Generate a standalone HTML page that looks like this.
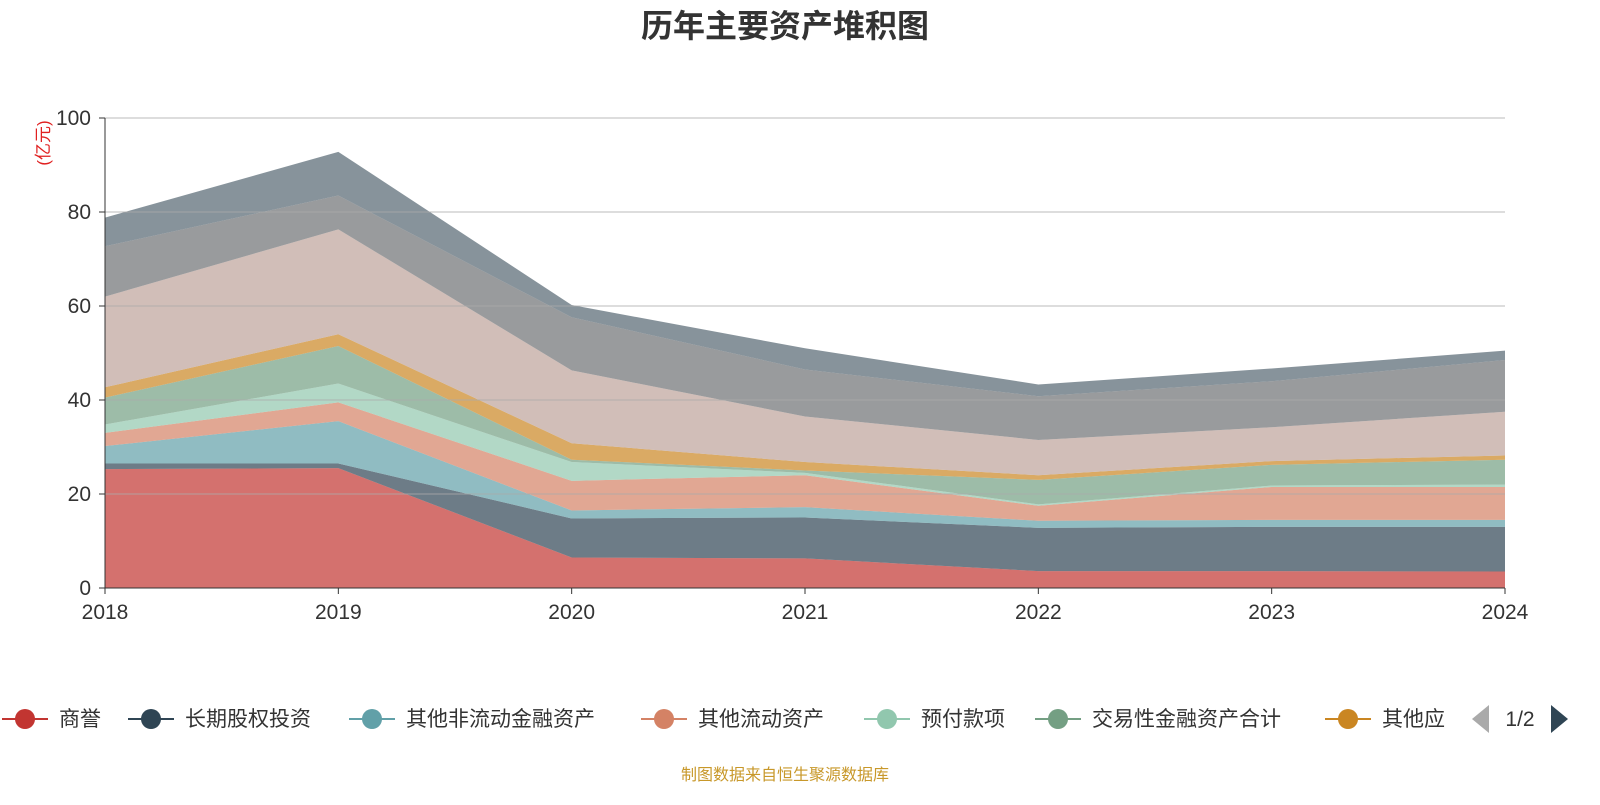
<!DOCTYPE html>
<html><head><meta charset="utf-8">
<style>
body{margin:0;background:#fff;width:1600px;height:800px;overflow:hidden;font-family:"Liberation Sans","Noto Sans CJK SC",sans-serif;}
svg text{font-family:"Liberation Sans","Noto Sans CJK SC",sans-serif;}
</style></head><body>
<svg id="chart" width="1600" height="800">
<text x="785" y="37" text-anchor="middle" font-size="32" font-weight="bold" fill="#333">历年主要资产堆积图</text>
<text transform="translate(49,143) rotate(-90)" text-anchor="middle" font-size="17" fill="#e02020">(亿元)</text>
<g id="areas"></g><g id="grid"></g><g id="axes"></g><g id="legend"></g>
<text x="785" y="780" text-anchor="middle" font-size="16" fill="#c8982a">制图数据来自恒生聚源数据库</text>
</svg>
<script>
const years=["2018","2019","2020","2021","2022","2023","2024"];
const yTicks=[0,20,40,60,80,100];
const names=["商誉","长期股权投资","其他非流动金融资产","其他流动资产","预付款项","交易性金融资产合计","其他应收款","系列8","系列9","系列10"];
const s1=[25.3,25.5,6.5,6.3,3.6,3.6,3.5];
const s2=[1.2,1.0,8.3,8.7,9.2,9.4,9.5];
const s3=[3.7,9.0,1.7,2.2,1.5,1.5,1.5];
const s4=[2.8,4.0,6.3,6.8,3.2,7.0,7.0];
const s5=[1.8,4.0,4.0,0.5,0.3,0.3,0.5];
const s6=[5.7,8.0,0.5,0.5,5.2,4.4,5.3];
const s7=[2.2,2.5,3.5,1.8,1.0,0.8,0.9];
const s8=[19.3,22.3,15.5,9.7,7.5,7.2,9.3];
const s9=[10.7,7.2,11.3,10.0,9.3,9.8,11.0];
const s10=[6.1,9.3,2.6,4.5,2.5,2.7,2.0];
const series=[s1,s2,s3,s4,s5,s6,s7,s8,s9,s10];
const colors=["#c23531","#2f4554","#61a0a8","#d48265","#91c7ae","#749f83","#ca8622","#bda29a","#6e7074","#546570"];
const NS="http://www.w3.org/2000/svg";
const X0=105,X1=1505,Y0=588,Y1=118;
const xs=i=>X0+i*(X1-X0)/(years.length-1);
const ys=v=>Y0-v*(Y0-Y1)/100;
function mk(t,a,p){const e=document.createElementNS(NS,t);for(const k in a)e.setAttribute(k,a[k]);p.appendChild(e);return e;}
const areas=document.getElementById('areas');
let base=years.map(()=>0);
series.forEach((s,k)=>{
  const top=base.map((b,i)=>b+s[i]);
  let d="M"+top.map((v,i)=>xs(i)+","+ys(v)).join("L");
  for(let i=years.length-1;i>=0;i--)d+="L"+xs(i)+","+ys(base[i]);
  const p=mk('path',{d:d+"Z",fill:colors[k],'fill-opacity':0.7},areas);
  
  
  base=top;
});
const grid=document.getElementById('grid'),axes=document.getElementById('axes');
yTicks.forEach(t=>{
  if(t>0){const l=mk('line',{x1:X0,x2:X1,y1:ys(t),y2:ys(t),stroke:'#aaa','stroke-opacity':0.8,'stroke-width':1},grid);
  
  }
  const tk=mk('line',{x1:X0-6,x2:X0,y1:ys(t),y2:ys(t),stroke:'#333'},axes);
  
  
  const tx=mk('text',{x:X0-14,y:ys(t)+7,'text-anchor':'end','font-size':21,fill:'#333'},axes);
  tx.textContent=t;
  
  
});
const ya=mk('line',{x1:X0,x2:X0,y1:Y1,y2:Y0,stroke:'#333'},axes);


const xa=mk('line',{x1:X0,x2:X1,y1:Y0,y2:Y0,stroke:'#333'},axes);


years.forEach((y,i)=>{
  const tk=mk('line',{x1:xs(i),x2:xs(i),y1:Y0,y2:Y0+6,stroke:'#333'},axes);
  
  
  const tx=mk('text',{x:xs(i),y:Y0+31,'text-anchor':'middle','font-size':21,fill:'#333'},axes);
  tx.textContent=y;
  
  
});
const lg=document.getElementById('legend');
const lpos=[25,151,372,664,887,1058,1348];
lpos.forEach((cx,k)=>{
  const g=mk('g',{},lg);
  
  
  mk('line',{x1:cx-23,x2:cx+23,y1:719,y2:719,stroke:colors[k],'stroke-width':2},g);
  mk('circle',{cx:cx,cy:719,r:10,fill:colors[k]},g);
  const t=mk('text',{x:cx+34,y:726,'font-size':21,fill:'#333'},g);
  t.textContent=k==6?"其他应":names[k];
});
const pl=mk('path',{d:"M1472,719L1489,705L1489,733Z",fill:'#aaa'},lg);


const pt=mk('text',{x:1520,y:726,'text-anchor':'middle','font-size':21,fill:'#333'},lg);
pt.textContent="1/2";


const pn=mk('path',{d:"M1568,719L1551,705L1551,733Z",fill:'#2f4554'},lg);


</script>
</body></html>
